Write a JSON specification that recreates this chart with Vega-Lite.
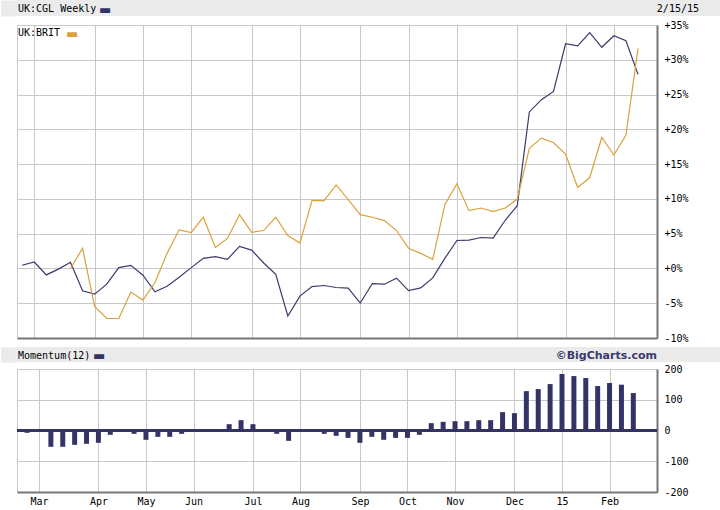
{
  "$schema": "https://vega.github.io/schema/vega-lite/v6.json",
  "background": "white",
  "padding": 0,
  "spacing": 0,
  "config": {
    "view": {"stroke": "#c8c8c8"},
    "axis": {
      "gridColor": "#c8c8c8",
      "gridWidth": 1,
      "labelFont": "DejaVu Sans Mono",
      "labelFontSize": 10,
      "labelColor": "#000000",
      "title": null
    }
  },
  "datasets": {
    "weekly": [
      {"date": "2014-02-23", "cgl": 0.46, "brit": null, "mom": -7.6},
      {"date": "2014-03-02", "cgl": 0.93, "brit": null, "mom": -4.3},
      {"date": "2014-03-09", "cgl": -0.93, "brit": null, "mom": -53},
      {"date": "2014-03-16", "cgl": -0.1, "brit": null, "mom": -53},
      {"date": "2014-03-23", "cgl": 0.88, "brit": 0.0, "mom": -46.6},
      {"date": "2014-03-30", "cgl": -3.2, "brit": 2.88, "mom": -43.3},
      {"date": "2014-04-06", "cgl": -3.7, "brit": -5.45, "mom": -40},
      {"date": "2014-04-13", "cgl": -2.26, "brit": -7.2, "mom": -14},
      {"date": "2014-04-20", "cgl": 0.12, "brit": -7.2, "mom": -1},
      {"date": "2014-04-27", "cgl": 0.45, "brit": -3.4, "mom": -10.8},
      {"date": "2014-05-04", "cgl": -0.98, "brit": -4.55, "mom": -30.3},
      {"date": "2014-05-11", "cgl": -3.36, "brit": -2.02, "mom": -20.6},
      {"date": "2014-05-18", "cgl": -2.55, "brit": 2.17, "mom": -20.6},
      {"date": "2014-05-25", "cgl": -1.26, "brit": 5.55, "mom": -10.8},
      {"date": "2014-06-01", "cgl": 0.12, "brit": 5.17, "mom": 4.3},
      {"date": "2014-06-08", "cgl": 1.45, "brit": 7.36, "mom": 4.3},
      {"date": "2014-06-15", "cgl": 1.69, "brit": 3.02, "mom": 1},
      {"date": "2014-06-22", "cgl": 1.31, "brit": 4.31, "mom": 20.6},
      {"date": "2014-06-29", "cgl": 3.17, "brit": 7.74, "mom": 33.6},
      {"date": "2014-07-06", "cgl": 2.64, "brit": 5.2, "mom": 20.6},
      {"date": "2014-07-13", "cgl": 0.79, "brit": 5.45, "mom": 0},
      {"date": "2014-07-20", "cgl": -0.83, "brit": 7.36, "mom": -10.8},
      {"date": "2014-07-27", "cgl": -6.83, "brit": 4.74, "mom": -33.6},
      {"date": "2014-08-03", "cgl": -3.98, "brit": 3.64, "mom": -4.3},
      {"date": "2014-08-10", "cgl": -2.6, "brit": 9.74, "mom": 0},
      {"date": "2014-08-17", "cgl": -2.45, "brit": 9.74, "mom": -10.8},
      {"date": "2014-08-24", "cgl": -2.74, "brit": 12.0, "mom": -17.4},
      {"date": "2014-08-31", "cgl": -2.83, "brit": 9.88, "mom": -23.9},
      {"date": "2014-09-07", "cgl": -4.98, "brit": 7.74, "mom": -40},
      {"date": "2014-09-14", "cgl": -2.17, "brit": 7.36, "mom": -20.6},
      {"date": "2014-09-21", "cgl": -2.26, "brit": 6.88, "mom": -30.3},
      {"date": "2014-09-28", "cgl": -1.4, "brit": 5.45, "mom": -23.9},
      {"date": "2014-10-05", "cgl": -3.2, "brit": 2.9, "mom": -23.9},
      {"date": "2014-10-12", "cgl": -2.79, "brit": 2.17, "mom": -14},
      {"date": "2014-10-19", "cgl": -1.36, "brit": 1.31, "mom": 23.9},
      {"date": "2014-10-26", "cgl": 1.45, "brit": 9.17, "mom": 28.2},
      {"date": "2014-11-02", "cgl": 4.02, "brit": 12.17, "mom": 30.3},
      {"date": "2014-11-09", "cgl": 4.07, "brit": 8.31, "mom": 30.3},
      {"date": "2014-11-16", "cgl": 4.45, "brit": 8.69, "mom": 33.6},
      {"date": "2014-11-23", "cgl": 4.36, "brit": 8.17, "mom": 33.6},
      {"date": "2014-11-30", "cgl": 6.93, "brit": 8.69, "mom": 59.7},
      {"date": "2014-12-07", "cgl": 9.02, "brit": 9.98, "mom": 56.4},
      {"date": "2014-12-14", "cgl": 22.5, "brit": 17.26, "mom": 128},
      {"date": "2014-12-21", "cgl": 24.26, "brit": 18.74, "mom": 134.7},
      {"date": "2014-12-28", "cgl": 25.45, "brit": 18.07, "mom": 151},
      {"date": "2015-01-04", "cgl": 32.3, "brit": 16.45, "mom": 183.7},
      {"date": "2015-01-11", "cgl": 32.0, "brit": 11.64, "mom": 177},
      {"date": "2015-01-18", "cgl": 33.9, "brit": 13.07, "mom": 170.6},
      {"date": "2015-01-25", "cgl": 31.8, "brit": 18.83, "mom": 144.6},
      {"date": "2015-02-01", "cgl": 33.45, "brit": 16.31, "mom": 154.4},
      {"date": "2015-02-08", "cgl": 32.74, "brit": 19.17, "mom": 149},
      {"date": "2015-02-15", "cgl": 27.9, "brit": 31.64, "mom": 121.8}
    ]
  },
  "vconcat": [
    {
      "width": 704,
      "height": 16,
      "view": {"fill": "#ebebeb", "stroke": null},
      "data": {"values": [{"title": "UK:CGL Weekly", "dash": "▬", "asof": "2/15/15"}]},
      "encoding": {
        "x": {"datum": "left", "type": "nominal", "scale": {"type": "point", "padding": 0, "domain": ["left", "right"]}, "axis": null},
        "y": {
          "datum": 0.5, "type": "quantitative", "scale": {"domain": [0, 1]},
          "axis": {"orient": "left", "labels": false, "ticks": false, "grid": false, "domain": true, "domainColor": "#ebebeb", "domainWidth": 17, "offset": 8, "minExtent": 8, "maxExtent": 8}
        }
      },
      "layer": [
        {
          "mark": {"type": "text", "align": "left", "baseline": "middle", "dx": 1, "dy": 1, "font": "DejaVu Sans Mono", "fontSize": 10, "color": "#000000"},
          "encoding": {"text": {"field": "title"}}
        },
        {
          "mark": {"type": "text", "align": "left", "baseline": "middle", "dx": 82, "dy": 2, "font": "DejaVu Sans", "fontSize": 13, "color": "#333366"},
          "encoding": {"text": {"field": "dash"}}
        },
        {
          "mark": {"type": "text", "align": "right", "baseline": "middle", "dx": -22, "dy": 1, "font": "DejaVu Sans Mono", "fontSize": 10, "color": "#000000"},
          "encoding": {
            "x": {"datum": "right", "type": "nominal", "axis": null},
            "text": {"field": "asof"}
          }
        }
      ]
    },
    {
      "width": 640,
      "height": 313,
      "data": {"name": "weekly"},
      "layer": [
        {
          "mark": {"type": "line", "color": "#3a3a6e", "strokeWidth": 1.2},
          "encoding": {
            "x": {
              "field": "date", "type": "temporal",
              "scale": {"type": "utc", "domain": [{"year": 2014, "month": 2, "date": 20, "utc": true}, {"year": 2015, "month": 2, "date": 26, "utc": true}]},
              "axis": {
                "orient": "bottom", "labels": false, "ticks": false, "grid": true,
                "domainColor": "#777777", "domainWidth": 2, "minExtent": 8, "maxExtent": 8,
                "values": [
                  {"year": 2014, "month": 3, "date": 2, "utc": true},
                  {"year": 2014, "month": 4, "date": 6, "utc": true},
                  {"year": 2014, "month": 5, "date": 4, "utc": true},
                  {"year": 2014, "month": 6, "date": 1, "utc": true},
                  {"year": 2014, "month": 7, "date": 6, "utc": true},
                  {"year": 2014, "month": 8, "date": 3, "utc": true},
                  {"year": 2014, "month": 9, "date": 7, "utc": true},
                  {"year": 2014, "month": 10, "date": 5, "utc": true},
                  {"year": 2014, "month": 11, "date": 2, "utc": true},
                  {"year": 2014, "month": 12, "date": 7, "utc": true},
                  {"year": 2015, "month": 1, "date": 4, "utc": true},
                  {"year": 2015, "month": 2, "date": 1, "utc": true}
                ]
              }
            },
            "y": {
              "field": "cgl", "type": "quantitative",
              "scale": {"domain": [-10, 35], "nice": false},
              "axis": {
                "orient": "right", "values": [-10, -5, 0, 5, 10, 15, 20, 25, 30, 35],
                "grid": true, "ticks": false, "labelPadding": 7, "labelAlign": "left",
                "domainColor": "#777777", "domainWidth": 2,
                "labelExpr": "(datum.value >= 0 ? '+' : '') + datum.value + '%'"
              }
            }
          }
        },
        {
          "mark": {"type": "line", "color": "#d9a23c", "strokeWidth": 1.2},
          "encoding": {
            "x": {
              "field": "date", "type": "temporal",
              "axis": {"orient": "top", "labels": false, "ticks": false, "grid": false, "domain": false, "minExtent": 7, "maxExtent": 7}
            },
            "y": {
              "field": "brit", "type": "quantitative",
              "axis": {"orient": "left", "labels": false, "ticks": false, "grid": false, "domain": false, "minExtent": 16, "maxExtent": 16}
            }
          }
        },
        {
          "data": {"values": [{"label": "UK:BRIT", "dash": "▬"}]},
          "layer": [
            {
              "mark": {"type": "text", "align": "left", "baseline": "middle", "dx": 1, "dy": 8, "font": "DejaVu Sans Mono", "fontSize": 10, "color": "#000000"},
              "encoding": {
                "x": {"datum": {"year": 2014, "month": 2, "date": 20, "utc": true}, "type": "temporal", "axis": null},
                "y": {"datum": 35, "type": "quantitative", "axis": null},
                "text": {"field": "label"}
              }
            },
            {
              "mark": {"type": "text", "align": "left", "baseline": "middle", "dx": 49, "dy": 9, "font": "DejaVu Sans", "fontSize": 13, "color": "#d9a23c"},
              "encoding": {
                "x": {"datum": {"year": 2014, "month": 2, "date": 20, "utc": true}, "type": "temporal", "axis": null},
                "y": {"datum": 35, "type": "quantitative", "axis": null},
                "text": {"field": "dash"}
              }
            }
          ]
        }
      ],
      "resolve": {"axis": {"x": "independent", "y": "independent"}}
    },
    {
      "width": 704,
      "height": 15,
      "view": {"fill": "#ebebeb", "stroke": null},
      "data": {"values": [{"title": "Momentum(12)", "dash": "▬", "credit": "©BigCharts.com"}]},
      "encoding": {
        "x": {"datum": "left", "type": "nominal", "scale": {"type": "point", "padding": 0, "domain": ["left", "right"]}, "axis": null},
        "y": {
          "datum": 0.5, "type": "quantitative", "scale": {"domain": [0, 1]},
          "axis": {"orient": "left", "labels": false, "ticks": false, "grid": false, "domain": true, "domainColor": "#ebebeb", "domainWidth": 17, "offset": 8, "minExtent": 8, "maxExtent": 8}
        }
      },
      "layer": [
        {
          "mark": {"type": "text", "align": "left", "baseline": "middle", "dx": 1, "dy": 1, "font": "DejaVu Sans Mono", "fontSize": 10, "color": "#000000"},
          "encoding": {"text": {"field": "title"}}
        },
        {
          "mark": {"type": "text", "align": "left", "baseline": "middle", "dx": 76, "dy": 1, "font": "DejaVu Sans", "fontSize": 13, "color": "#333366"},
          "encoding": {"text": {"field": "dash"}}
        },
        {
          "mark": {"type": "text", "align": "right", "baseline": "middle", "dx": -64, "dy": 1, "font": "DejaVu Sans", "fontSize": 11, "fontWeight": "bold", "color": "#3a3a6e"},
          "encoding": {
            "x": {"datum": "right", "type": "nominal", "axis": null},
            "text": {"field": "credit"}
          }
        }
      ]
    },
    {
      "width": 640,
      "height": 123,
      "data": {"name": "weekly"},
      "layer": [
        {
          "mark": {"type": "bar", "color": "#333366", "width": 5},
          "encoding": {
            "x": {
              "field": "date", "type": "temporal",
              "scale": {"type": "utc", "domain": [{"year": 2014, "month": 2, "date": 20, "utc": true}, {"year": 2015, "month": 2, "date": 26, "utc": true}]},
              "axis": {
                "orient": "bottom", "ticks": false, "grid": true, "labelPadding": 4,
                "domainColor": "#777777", "domainWidth": 2,
                "labelExpr": "utcmonth(datum.value) == 0 ? '15' : utcFormat(datum.value, '%b')",
                "values": [
                  {"year": 2014, "month": 3, "date": 2, "utc": true},
                  {"year": 2014, "month": 4, "date": 6, "utc": true},
                  {"year": 2014, "month": 5, "date": 4, "utc": true},
                  {"year": 2014, "month": 6, "date": 1, "utc": true},
                  {"year": 2014, "month": 7, "date": 6, "utc": true},
                  {"year": 2014, "month": 8, "date": 3, "utc": true},
                  {"year": 2014, "month": 9, "date": 7, "utc": true},
                  {"year": 2014, "month": 10, "date": 5, "utc": true},
                  {"year": 2014, "month": 11, "date": 2, "utc": true},
                  {"year": 2014, "month": 12, "date": 7, "utc": true},
                  {"year": 2015, "month": 1, "date": 4, "utc": true},
                  {"year": 2015, "month": 2, "date": 1, "utc": true}
                ]
              }
            },
            "y": {
              "field": "mom", "type": "quantitative",
              "scale": {"domain": [-200, 200], "nice": false},
              "axis": {
                "orient": "right", "values": [-200, -100, 0, 100, 200],
                "grid": true, "ticks": false, "labelPadding": 7, "labelAlign": "left",
                "domainColor": "#777777", "domainWidth": 2,
                "labelExpr": "'' + datum.value"
              }
            }
          }
        },
        {
          "mark": {"type": "rule", "color": "#333366", "strokeWidth": 2},
          "encoding": {
            "y": {
              "datum": 0, "type": "quantitative",
              "axis": {"orient": "left", "labels": false, "ticks": false, "grid": false, "domain": false, "minExtent": 16, "maxExtent": 16}
            }
          }
        }
      ],
      "resolve": {"axis": {"y": "independent"}}
    }
  ]
}
